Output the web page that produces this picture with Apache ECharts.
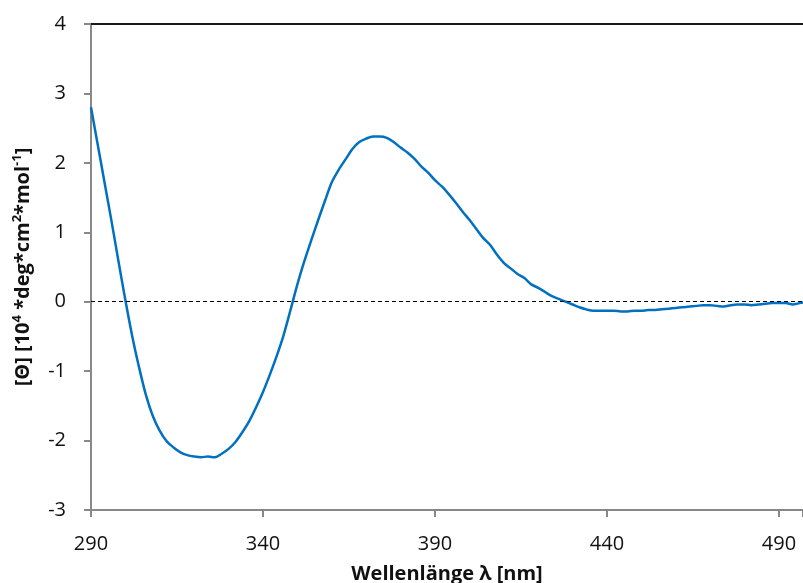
<!DOCTYPE html>
<html><head><meta charset="utf-8">
<script src="https://cdn.jsdelivr.net/npm/echarts@6/dist/echarts.min.js"></script>
<style>html,body{margin:0;padding:0;background:#fff}#c{width:803px;height:583px}</style>
</head><body><div id="c"></div>
<script>
const wavelengths = [290,292,294,296,298,300,302,304,306,308,310,312,314,316,318,320,322,324,326,328,330,332,334,336,338,340,342,344,346,348,350,352,354,356,358,360,362,364,366,368,370,372,374,376,378,380,382,384,386,388,390,392,394,396,398,400,402,404,406,408,410,412,414,416,418,420,422,424,426,428,430,432,434,436,438,440,442,444,446,448,450,452,454,456,458,460,462,464,466,468,470,472,474,476,478,480,482,484,486,488,490,492,494,496,497];
const theta = [2.80,2.25,1.70,1.15,0.58,0.02,-0.50,-0.95,-1.35,-1.65,-1.86,-2.01,-2.10,-2.17,-2.21,-2.23,-2.24,-2.23,-2.24,-2.19,-2.12,-2.02,-1.88,-1.72,-1.52,-1.30,-1.05,-0.78,-0.48,-0.12,0.25,0.58,0.88,1.17,1.45,1.72,1.90,2.05,2.20,2.30,2.35,2.38,2.38,2.36,2.30,2.22,2.15,2.06,1.95,1.86,1.75,1.66,1.55,1.43,1.30,1.18,1.05,0.92,0.82,0.68,0.56,0.48,0.40,0.34,0.25,0.20,0.14,0.08,0.04,0.00,-0.04,-0.08,-0.11,-0.13,-0.13,-0.13,-0.13,-0.14,-0.14,-0.13,-0.13,-0.12,-0.12,-0.11,-0.10,-0.09,-0.08,-0.07,-0.06,-0.05,-0.05,-0.06,-0.07,-0.05,-0.04,-0.04,-0.05,-0.04,-0.03,-0.02,-0.02,-0.02,-0.04,-0.02,-0.01];
const xTicks = [290,340,390,440,490];
const yTicks = [-3,-2,-1,0,1,2,3,4];

const chart = echarts.init(document.getElementById('c'));
const font = '"Open Sans", Lato, sans-serif';
chart.setOption({
  animation: false,
  grid: {left: 91, right: 0, top: 24, bottom: 73, containLabel: false, outerBoundsMode: 'none'},
  xAxis: {
    type: 'value', min: 290, max: 497, interval: 50,
    name: 'Wellenlänge λ [nm]', nameLocation: 'middle', nameGap: 54,
    nameTextStyle: {fontFamily: font, fontWeight: 'bold', fontSize: 20, color: '#111'},
    axisLine: {show: true, onZero: false, lineStyle: {color: '#888', width: 2}},
    axisTick: {show: true, length: 7, lineStyle: {color: '#888', width: 2}},
    axisLabel: {fontFamily: font, fontSize: 20, color: '#111', margin: 24,
      formatter: v => xTicks.includes(v) ? String(v) : ''},
    splitLine: {show: false}
  },
  yAxis: {
    type: 'value', min: -3, max: 4, interval: 1,
    name: '[Θ] [10{sup|4} *deg*cm{sup|2}*mol{sup|-1}]', nameLocation: 'middle', nameGap: 56, nameRotate: 90,
    nameTextStyle: {fontFamily: font, fontWeight: 'bold', fontSize: 20, color: '#111',
      rich: {sup: {fontFamily: font, fontWeight: 'bold', fontSize: 13, color: '#111', verticalAlign: 'top', lineHeight: 24}}},
    axisLine: {show: true, onZero: false, lineStyle: {color: '#888', width: 2}},
    axisTick: {show: true, length: 7, lineStyle: {color: '#888', width: 2}},
    axisLabel: {fontFamily: font, fontSize: 20, color: '#111', margin: 25,
      formatter: v => yTicks.includes(v) ? String(v) : ''},
    splitLine: {show: false}
  },
  series: [{
    type: 'line',
    data: wavelengths.map((w, i) => [w, theta[i]]),
    showSymbol: false, smooth: 0.3,
    lineStyle: {color: '#0070c0', width: 2.5},
    markLine: {
      silent: true, symbol: 'none', label: {show: false},
      data: [
        {yAxis: 0, lineStyle: {color: '#000', type: [4, 3], width: 1}},
        {yAxis: 4, lineStyle: {color: '#1a1a1a', type: 'solid', width: 2}}
      ]
    }
  }]
});
</script></body></html>
